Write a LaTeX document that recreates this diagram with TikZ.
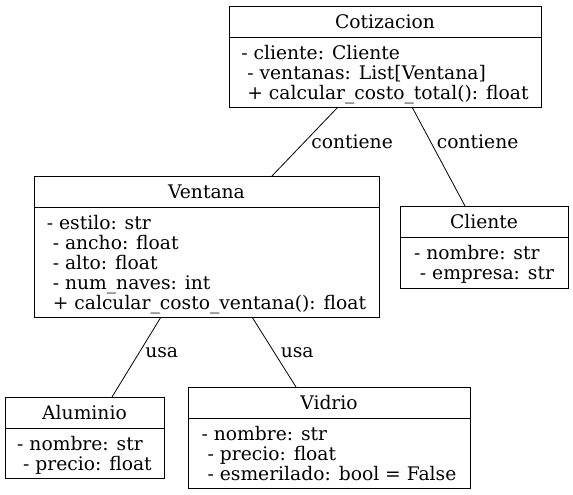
\documentclass[tikz,border=0pt]{standalone}
\usepackage{fontspec}
\setmainfont{DejaVu Serif}
\usetikzlibrary{positioning}

\begin{document}
\begin{tikzpicture}[
        x=1pt, y=-1pt,
        every node/.style={font=\fontsize{18.7}{20}\selectfont},
        classhead/.style={draw, line width=0.9pt, anchor=north west, minimum height=31pt, inner sep=0pt, outer sep=0pt},
        classbody/.style={draw, line width=0.9pt, align=left, inner sep=0pt, outer sep=0pt, text depth=0pt},
        link/.style={line width=0.8pt},
        lbl/.style={right, inner sep=0pt, xshift=6pt}
    ]
        \useasboundingbox (0,0) rectangle (573,495);

        % classes
        \node[classhead, minimum width=312pt] (cotih) at (229,6) {Cotizacion};
        \node[classbody, minimum width=312pt, minimum height=70pt, below=0pt of cotih] (cotib)
            {- cliente: Cliente\\\ - ventanas: List[Ventana]\\\ + calcular\_costo\_total(): float};

        \node[classhead, minimum width=345pt] (venth) at (34,176) {Ventana};
        \node[classbody, minimum width=345pt, minimum height=110pt, below=0pt of venth] (ventb)
            {- estilo: str\\\ - ancho: float\\\ - alto: float\\\ - num\_naves: int\\\ + calcular\_costo\_ventana(): float};

        \node[classhead, minimum width=168pt] (clih) at (400,206) {Cliente};
        \node[classbody, minimum width=168pt, minimum height=51pt, below=0pt of clih] (clib)
            {- nombre: str\\\ - empresa: str};

        \node[classhead, minimum width=159pt] (aluh) at (5,397) {Aluminio};
        \node[classbody, minimum width=159pt, minimum height=50pt, below=0pt of aluh] (alub)
            {- nombre: str\\\ - precio: float};

        \node[classhead, minimum width=282pt] (vidh) at (188,387) {Vidrio};
        \node[classbody, minimum width=282pt, minimum height=70pt, below=0pt of vidh] (vidb)
            {- nombre: str\\\ - precio: float\\\ - esmerilado: bool = False};

        % relations
        \draw[link] ([xshift=-47pt]cotib.south) -- node[lbl, pos=0.5] {contiene} ([xshift=65.5pt]venth.north);
        \draw[link] ([xshift=27pt]cotib.south) -- node[lbl, pos=0.35] {contiene} ([xshift=-19pt]clih.north);
        \draw[link] ([xshift=-45.5pt]ventb.south) -- node[lbl, pos=0.45] {usa} ([xshift=27.5pt]aluh.north);
        \draw[link] ([xshift=45.5pt]ventb.south) -- node[lbl, pos=0.51] {usa} ([xshift=-33pt]vidh.north);
    \end{tikzpicture}
\end{document}
